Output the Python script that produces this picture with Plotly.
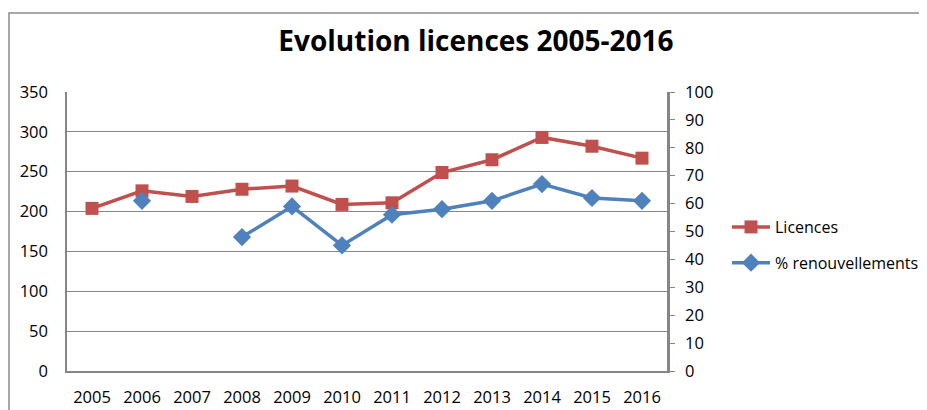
import plotly.graph_objects as go

years = ["2005", "2006", "2007", "2008", "2009", "2010", "2011", "2012", "2013", "2014", "2015", "2016"]
licences = [204, 226, 219, 228, 232, 209, 211, 249, 265, 293, 282, 267]
renouvellements = [None, 61, None, 48, 59, 45, 56, 58, 61, 67, 62, 61]

RED = "#C0504D"
BLUE = "#4F81BD"
GREY = "#868686"
FONT = "Open Sans, sans-serif"

# page body has an 8px margin: figure drawn at (8, 8)
W, H = 919, 402
L, T = 59, 84
PW, PH = 600, 279

fig = go.Figure()
fig.add_trace(go.Scatter(
    x=years, y=licences, name="Licences", mode="lines+markers",
    line=dict(color=RED, width=3.5), marker=dict(symbol="square", size=13, color=RED),
    legendgroup="a"))
fig.add_trace(go.Scatter(
    x=years, y=renouvellements, name="% renouvellements", mode="lines+markers",
    line=dict(color=BLUE, width=3.5), marker=dict(symbol="diamond", size=14, color=BLUE),
    connectgaps=False, yaxis="y2", legendgroup="b"))

fig.update_layout(
    width=W, height=H,
    margin=dict(l=L, r=W - L - PW, t=T, b=H - T - PH, autoexpand=False),
    paper_bgcolor="white", plot_bgcolor="white",
    font=dict(family=FONT, size=16, color="black"),
    title=dict(text="<b>Evolution licences 2005-2016</b>", x=(476 - 8) / W, xanchor="center",
               y=1 - (41 - 8) / H, yanchor="middle", font=dict(size=28, family=FONT)),
    xaxis=dict(type="category", range=[-0.5, 11.5], showgrid=False,
               showline=True, linecolor=GREY, linewidth=2,
               ticks="", ticklabelstandoff=10, tickfont=dict(size=16.5)),
    yaxis=dict(range=[0, 350], dtick=50, showgrid=True, gridcolor=GREY, gridwidth=1,
               showline=True, linecolor=GREY, linewidth=1.5, zeroline=False,
               ticks="", ticklabelstandoff=14, tickfont=dict(size=16.5)),
    yaxis2=dict(range=[0, 100], dtick=10, overlaying="y", side="right", showgrid=False,
                showline=True, linecolor=GREY, linewidth=2.5, zeroline=False,
                ticks="outside", ticklen=5, tickcolor=GREY, tickwidth=1,
                ticklabelstandoff=7, tickfont=dict(size=16.5)),
    legend=dict(x=(719 - L) / PW, y=(T + PH - (245 - 8)) / PH, xanchor="left", yanchor="middle",
                font=dict(size=16), tracegroupgap=12, traceorder="grouped", itemwidth=38,
                bgcolor="rgba(0,0,0,0)"),
    shapes=[dict(type="rect", xref="paper", yref="paper",
                 x0=(9 - 8 - L) / PW, x1=(935 - 8 - L) / PW,
                 y0=(T + PH - 420) / PH, y1=(T + PH - (13 - 8)) / PH,
                 line=dict(color="#8C8C8C", width=1.5), layer="below")],
)

fig.write_html("out.html")
